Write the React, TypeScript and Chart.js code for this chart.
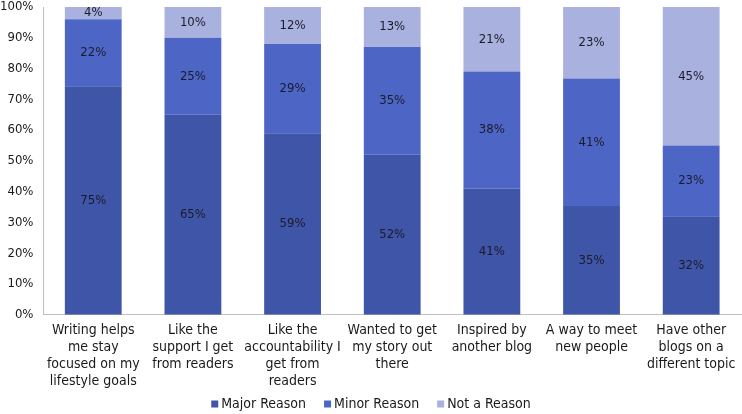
import React, { useEffect, useRef } from "react";
import { Chart, registerables } from "chart.js";

Chart.register(...registerables);

const categories: string[][] = [
  ["Writing helps", "me stay", "focused on my", "lifestyle goals"],
  ["Like the", "support I get", "from readers"],
  ["Like the", "accountability I", "get from", "readers"],
  ["Wanted to get", "my story out", "there"],
  ["Inspired by", "another blog"],
  ["A way to meet", "new people"],
  ["Have other", "blogs on a", "different topic"],
];
const majorReason = [75, 65, 59, 52, 41, 35, 32];
const minorReason = [22, 25, 29, 35, 38, 41, 23];
const notAReason = [4, 10, 12, 13, 21, 23, 45];
const yTicks = [0, 10, 20, 30, 40, 50, 60, 70, 80, 90, 100];

const FONT = "'DejaVu Sans Condensed', 'DejaVu Sans', sans-serif";

const totals = majorReason.map((v, i) => v + minorReason[i] + notAReason[i]);
const norm = (arr: number[]) => arr.map((v, i) => (v / totals[i]) * 100);

const labelPlugin = {
  id: "segLabels",
  afterDatasetsDraw(chart: any) {
    const ctx = chart.ctx;
    ctx.save();
    ctx.font = `13px ${FONT}`;
    ctx.fillStyle = "#1b1b2a";
    ctx.textAlign = "center";
    ctx.textBaseline = "middle";
    chart.data.datasets.forEach((ds: any, di: number) => {
      const meta = chart.getDatasetMeta(di);
      meta.data.forEach((el: any, i: number) => {
        const raw = ds.raw[i];
        const y = (el.y + el.base) / 2;
        ctx.fillText(raw + "%", el.x, y);
      });
    });
    ctx.restore();
  },
};

const legendPlugin = {
  id: "bottomLegend",
  afterDraw(chart: any) {
    const ctx = chart.ctx;
    const box = 7;
    const gapText = 3;
    const gapItem = 18;
    ctx.save();
    ctx.font = `14px ${FONT}`;
    ctx.textBaseline = "middle";
    ctx.textAlign = "left";
    const items = chart.data.datasets.map((ds: any) => ({
      label: ds.label,
      color: ds.backgroundColor,
      w: ctx.measureText(ds.label).width,
    }));
    const total =
      items.reduce((s: number, it: any) => s + box + gapText + it.w, 0) + gapItem * (items.length - 1);
    let x = (chart.width - total) / 2;
    const y = chart.height - 10;
    items.forEach((it: any) => {
      ctx.fillStyle = it.color;
      ctx.fillRect(x, y - box / 2, box, box);
      x += box + gapText;
      ctx.fillStyle = "#1a1a1a";
      ctx.fillText(it.label, x, y);
      x += it.w + gapItem;
    });
    ctx.restore();
  },
};

export default function App() {
  const ref = useRef<HTMLCanvasElement>(null);
  useEffect(() => {
    document.body.style.margin = "0";
    const chart = new Chart(ref.current!, {
      type: "bar",
      data: {
        labels: categories,
        datasets: [
          { label: "Major Reason", data: norm(majorReason), raw: majorReason, backgroundColor: "#3f55a7" } as any,
          { label: "Minor Reason", data: norm(minorReason), raw: minorReason, backgroundColor: "#4d66c6" } as any,
          { label: "Not a Reason", data: norm(notAReason), raw: notAReason, backgroundColor: "#a9b1de" } as any,
        ],
      },
      options: {
        animation: false,
        responsive: false,
        maintainAspectRatio: false,
        layout: { padding: { top: 0, right: 1, left: 0, bottom: 24 } },
        datasets: { bar: { categoryPercentage: 0.57, barPercentage: 1 } },
        scales: {
          x: {
            stacked: true,
            grid: { display: false, drawTicks: false },
            border: { display: true, color: "#bfbfbf" },
            ticks: {
              color: "#1a1a1a",
              font: { family: FONT, size: 14, lineHeight: 1.22 },
              maxRotation: 0,
              autoSkip: false,
              padding: 7,
            },
            afterFit: (s: any) => {
              s.paddingLeft = 0;
              s.paddingRight = 0;
              s.height -= 7;
            },
          },
          y: {
            stacked: true,
            min: 0,
            max: 100,
            afterBuildTicks: (axis: any) => {
              axis.ticks = yTicks.map((v) => ({ value: v }));
            },
            grid: { display: false, drawTicks: false },
            border: { display: true, color: "#bfbfbf" },
            ticks: {
              color: "#1a1a1a",
              font: { family: FONT, size: 13 },
              padding: 10,
              callback: (v: any) => v + "%",
            },
            afterFit: (s: any) => {
              s.paddingTop = 7;
              s.paddingBottom = 0;
              s.width -= 10;
            },
          },
        },
        plugins: {
          legend: { display: false },
          tooltip: { enabled: false },
        },
      },
      plugins: [labelPlugin, legendPlugin],
    });
    return () => chart.destroy();
  }, []);
  return (
    <div style={{ width: 742, height: 414 }}>
      <canvas ref={ref} width={742} height={414} style={{ width: 742, height: 414 }} />
    </div>
  );
}
